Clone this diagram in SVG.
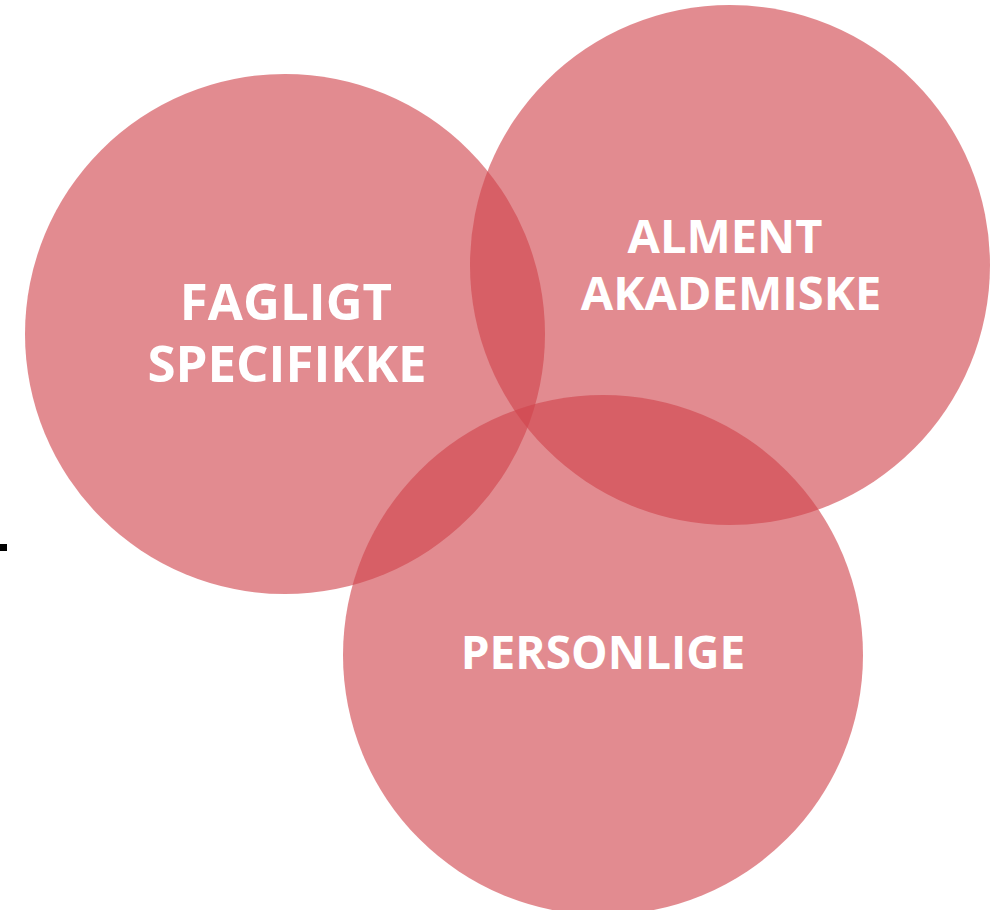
<svg xmlns="http://www.w3.org/2000/svg" width="1002" height="910" viewBox="0 0 1002 910">
  <style>
    .ring { fill: rgb(208,68,76); fill-opacity: 0.62; }
    .label { font-family: "Open Sans", "Liberation Sans", sans-serif; font-weight: bold; fill: #ffffff; text-anchor: middle; }
  </style>
  <rect width="1002" height="910" fill="#ffffff"/>
  <rect x="0" y="544" width="7" height="7" fill="#000000"/>
  <g id="node-fagligt">
    <circle class="ring" cx="285" cy="334" r="260"/>
  </g>
  <g id="node-alment">
    <circle class="ring" cx="730" cy="265" r="260"/>
  </g>
  <g id="node-personlige">
    <circle class="ring" cx="603" cy="655" r="260"/>
  </g>
  <g id="labels">
    <text class="label" font-size="51"><tspan x="286" y="320">FAGLIGT</tspan><tspan x="287" y="382">SPECIFIKKE</tspan></text>
    <text class="label" font-size="47"><tspan x="725" y="253">ALMENT</tspan><tspan x="731" y="310">AKADEMISKE</tspan></text>
    <text class="label" font-size="46" x="603" y="669">PERSONLIGE</text>
  </g>
</svg>
